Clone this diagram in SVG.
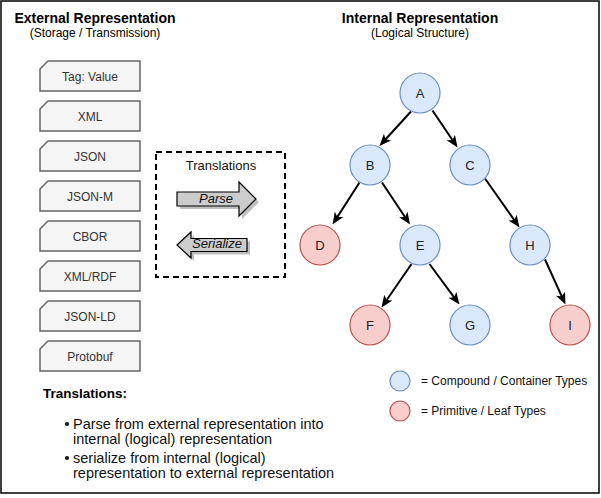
<svg xmlns="http://www.w3.org/2000/svg" width="601" height="498" viewBox="0 0 601 498">
<style>
text{font-family:"Liberation Sans",Arial,sans-serif;}
.hdr{font-size:14px;font-weight:bold;fill:#000;text-anchor:middle;}
.sub{font-size:12px;fill:#000;text-anchor:middle;}
.card{fill:#f5f5f5;stroke:#666666;stroke-width:1.5;}
.ct{font-size:12px;fill:#333333;text-anchor:middle;}
.blue{fill:#dae8fc;stroke:#6c8ebf;stroke-width:1.2;}
.red{fill:#f8cecc;stroke:#b85450;stroke-width:1.2;}
.nt{font-size:13px;fill:#222;text-anchor:middle;}
.edge{stroke:#000;stroke-width:2;fill:none;marker-end:url(#ah);}
.bar{fill:#cccccc;stroke:#000;stroke-width:1.2;}
.sh{fill:#000;opacity:0.25;}
.it{font-size:13px;font-style:italic;fill:#111;text-anchor:middle;}
.body{font-size:14.5px;fill:#111;}
.leg{font-size:12px;fill:#111;}
</style>
<defs>
<marker id="ah" viewBox="0 0 12 10" refX="8" refY="5" markerWidth="12" markerHeight="10" markerUnits="userSpaceOnUse" orient="auto">
<path d="M0,0 L12,5 L0,10 L3,5 Z" fill="#000"/>
</marker>
</defs>
<rect x="1" y="1" width="598" height="492" fill="#fff" stroke="#000" stroke-width="1.5"/>

<g id="header-external">
<text class="hdr" x="95" y="23">External Representation</text>
<text class="sub" x="95" y="37">(Storage / Transmission)</text>
</g>
<g id="header-internal">
<text class="hdr" x="420" y="23">Internal Representation</text>
<text class="sub" x="420" y="37">(Logical Structure)</text>
</g>

<g id="card-tagvalue"><path class="card" d="M48,61 H140 V91 H40 V69 Z"/><text class="ct" x="90" y="81">Tag: Value</text></g>
<g id="card-xml"><path class="card" d="M48,101 H140 V131 H40 V109 Z"/><text class="ct" x="90" y="121">XML</text></g>
<g id="card-json"><path class="card" d="M48,141 H140 V171 H40 V149 Z"/><text class="ct" x="90" y="161">JSON</text></g>
<g id="card-jsonm"><path class="card" d="M48,181 H140 V211 H40 V189 Z"/><text class="ct" x="90" y="201">JSON-M</text></g>
<g id="card-cbor"><path class="card" d="M48,221 H140 V251 H40 V229 Z"/><text class="ct" x="90" y="241">CBOR</text></g>
<g id="card-xmlrdf"><path class="card" d="M48,261 H140 V291 H40 V269 Z"/><text class="ct" x="90" y="281">XML/RDF</text></g>
<g id="card-jsonld"><path class="card" d="M48,301 H140 V331 H40 V309 Z"/><text class="ct" x="90" y="321">JSON-LD</text></g>
<g id="card-protobuf"><path class="card" d="M48,341 H140 V371 H40 V349 Z"/><text class="ct" x="90" y="361">Protobuf</text></g>

<g id="translations-box">
<rect x="156" y="152" width="129" height="125" fill="none" stroke="#000" stroke-width="2" stroke-dasharray="6,4"/>
<text x="221" y="170" font-size="13" fill="#111" text-anchor="middle">Translations</text>
</g>
<g id="parse-arrow">
<path class="sh" d="M180,195 H242 V185 L259,202 L242,219 V209 H180 Z"/>
<path class="bar" d="M177,192 H239 V182 L256,199 L239,216 V206 H177 Z"/>
<text class="it" x="216" y="203">Parse</text>
</g>
<g id="serialize-arrow">
<path class="sh" d="M180,248 L194,235 V241.5 H250 V254.5 H194 V261 Z"/>
<path class="bar" d="M177,245 L191,232 V238.5 H247 V251.5 H191 V258 Z"/>
<text class="it" x="217" y="248">Serialize</text>
</g>

<g id="connectors">
<line class="edge" x1="411" y1="111.5" x2="382.2" y2="143.0"/>
<line class="edge" x1="432.5" y1="110.5" x2="455.3" y2="144.2"/>
<line class="edge" x1="359.5" y1="182.5" x2="334.7" y2="221.1"/>
<line class="edge" x1="382" y1="182.5" x2="407.8" y2="221.2"/>
<line class="edge" x1="485" y1="178.5" x2="517.2" y2="224.2"/>
<line class="edge" x1="411.5" y1="264" x2="383.8" y2="304.2"/>
<line class="edge" x1="429.5" y1="264" x2="457.1" y2="301.3"/>
<line class="edge" x1="545" y1="259.5" x2="563.8" y2="300.9"/>
</g>

<g id="node-A"><circle class="blue" cx="420" cy="93" r="20"/><text class="nt" x="420" y="97.5">A</text></g>
<g id="node-B"><circle class="blue" cx="370" cy="165" r="20"/><text class="nt" x="370" y="169.5">B</text></g>
<g id="node-C"><circle class="blue" cx="470" cy="165" r="20"/><text class="nt" x="470" y="169.5">C</text></g>
<g id="node-D"><circle class="red" cx="320" cy="245" r="20"/><text class="nt" x="320" y="249.5">D</text></g>
<g id="node-E"><circle class="blue" cx="420" cy="245" r="20"/><text class="nt" x="420" y="249.5">E</text></g>
<g id="node-H"><circle class="blue" cx="530" cy="245" r="20"/><text class="nt" x="530" y="249.5">H</text></g>
<g id="node-F"><circle class="red" cx="370" cy="325" r="20"/><text class="nt" x="370" y="329.5">F</text></g>
<g id="node-G"><circle class="blue" cx="470" cy="325" r="20"/><text class="nt" x="470" y="329.5">G</text></g>
<g id="node-I"><circle class="red" cx="570" cy="325" r="20"/><text class="nt" x="570" y="329.5">I</text></g>

<g id="legend">
<circle class="blue" cx="400" cy="381" r="10"/>
<text class="leg" x="421" y="385">= Compound / Container Types</text>
<circle class="red" cx="400" cy="411" r="10"/>
<text class="leg" x="421" y="415">= Primitive / Leaf Types</text>
</g>

<g id="notes">
<text x="43" y="398" font-size="13.5" font-weight="bold" fill="#000">Translations:</text>
<circle cx="67" cy="424" r="2" fill="#111"/>
<text class="body" x="73" y="429">Parse from external representation into</text>
<text class="body" x="73" y="444">internal (logical) representation</text>
<circle cx="67" cy="458" r="2" fill="#111"/>
<text class="body" x="73" y="463">serialize from internal (logical)</text>
<text class="body" x="73" y="478">representation to external representation</text>
</g>
</svg>
